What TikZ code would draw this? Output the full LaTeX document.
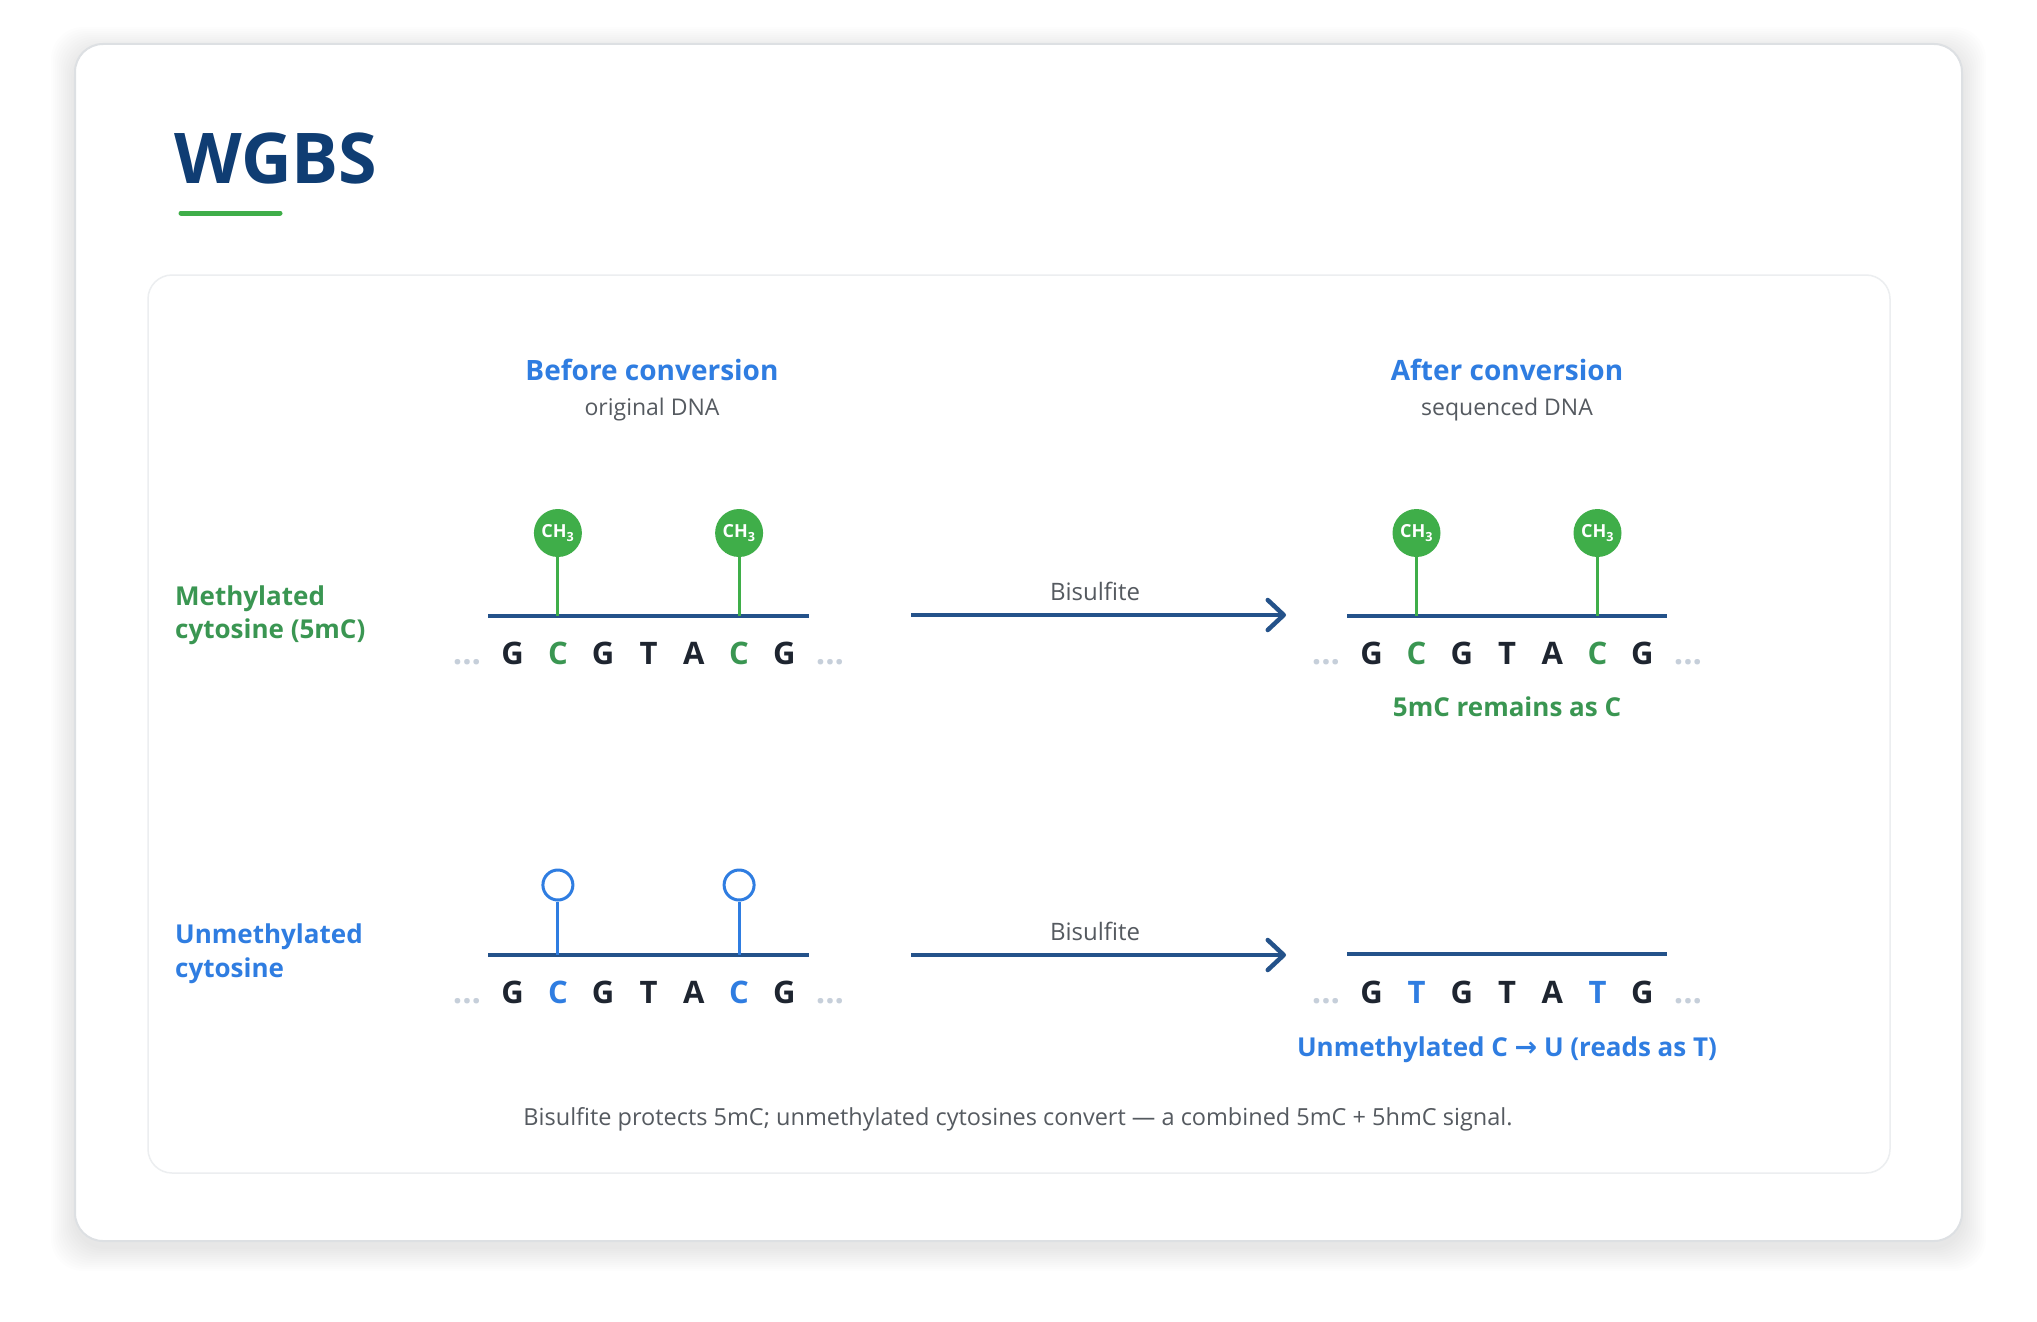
\documentclass[tikz,border=0pt]{standalone}
\usepackage{fontspec}
\setmainfont{Open Sans}
\newfontfamily\symfont{DejaVu Sans}
\usetikzlibrary{arrows.meta}
\definecolor{navy}{HTML}{0F3D73}
\definecolor{gbright}{HTML}{3FAE49}
\definecolor{gtext}{HTML}{3A9652}
\definecolor{bl}{HTML}{2F7DE1}
\definecolor{linenavy}{HTML}{24528A}
\definecolor{ink}{HTML}{1E2530}
\definecolor{gtxt}{HTML}{555A60}
\definecolor{dotc}{HTML}{C6CFDA}
\definecolor{cardline}{HTML}{DDE0E3}
\definecolor{panelline}{HTML}{ECEEF0}
\begin{document}
\begin{tikzpicture}[x=1pt,y=-1pt,
  titletext/.style={font=\fontsize{70}{84}\selectfont\bfseries, text=navy, inner sep=0, anchor=base west},
  hdr/.style={font=\fontsize{28}{34}\selectfont\bfseries, text=bl, inner sep=0, anchor=base},
  subhdr/.style={font=\fontsize{23}{28}\selectfont, text=gtxt, inner sep=0, anchor=base},
  rowlab/.style={font=\fontsize{26}{31}\selectfont\bfseries, inner sep=0, anchor=base west},
  base/.style={font=\fontsize{31}{37}\selectfont\bfseries, text=ink, inner sep=0, anchor=base},
  dots/.style={font=\fontsize{33}{39}\selectfont\bfseries, text=dotc, inner sep=0, anchor=base},
  backbone/.style={draw=linenavy, line width=3.5pt},
  ch3/.style={circle, fill=gbright, minimum size=48pt, inner sep=0, text=white, font=\fontsize{18}{20}\selectfont\bfseries},
  opencirc/.style={circle, draw=bl, fill=white, line width=3pt, minimum size=30pt, inner sep=0},
  gstem/.style={draw=gbright, line width=3pt},
  bstem/.style={draw=bl, line width=3pt},
  arr/.style={draw=linenavy, line width=4.5pt, -{Straight Barb[length=16pt,width=30pt,round]}},
  arrlab/.style={font=\fontsize{24}{29}\selectfont, text=gtxt, inner sep=0, anchor=base},
  note/.style={font=\fontsize{26}{31}\selectfont\bfseries, inner sep=0, anchor=base},
  foot/.style={font=\fontsize{23.5}{28}\selectfont, text=gtxt, inner sep=0, anchor=base}
]
\useasboundingbox (0,0) rectangle (2037,1322);
\fill[white] (0,0) rectangle (2037,1322);
% soft shadow
\foreach \i in {1,...,12}
  \fill[black, opacity=0.006, rounded corners=32pt] (75-2*\i, 46-2*\i+5) rectangle (1962+2*\i, 1241+2*\i+6);
% outer card
\draw[cardline, fill=white, line width=2pt, rounded corners=28pt] (75,44) rectangle (1962,1241);
% inner panel
\draw[panelline, fill=white, line width=1.5pt, rounded corners=24pt] (148,275) rectangle (1890,1173);

% title
\node[titletext] (title) at (174,183) {WGBS};
\draw[gbright, line width=5pt, line cap=round] (181,213) -- (280,213);

% headers
\node[hdr] (hb) at (652,380) {Before conversion};
\node[subhdr] (sb) at (652,415) {original DNA};
\node[hdr] (ha) at (1507,380) {After conversion};
\node[subhdr] (sa) at (1507,415) {sequenced DNA};

% row labels
\node[rowlab, text=gtext] (ml1) at (175,605) {Methylated};
\node[rowlab, text=gtext] (ml2) at (175,638) {cytosine (5mC)};
\node[rowlab, text=bl] (ul1) at (175,943) {Unmethylated};
\node[rowlab, text=bl] (ul2) at (175,977) {cytosine};

% ===== Row 1 left
\coordinate (b1lw) at (488,616);
\coordinate (b1le) at (809,616);
\draw[backbone] (b1lw) -- (b1le);
\node[dots] (d1la) at (467,664) {...};
\node[dots] (d1lb) at (830,664) {...};
\foreach \c/\x/\col [count=\k] in {G/512.6/ink, C/557.9/gtext, G/603.2/ink, T/648.5/ink, A/693.8/ink, C/739.1/gtext, G/784.4/ink}
  \node[base, text=\col] (r1l\k) at (\x,664) {\c};
\node[ch3] (m1a) at (557.9,533) {CH\textsubscript{3}};
\node[ch3] (m1b) at (739.1,533) {CH\textsubscript{3}};
\draw[gstem] (m1a.south) -- (m1a.south |- b1lw);
\draw[gstem] (m1b.south) -- (m1b.south |- b1lw);

% arrow 1
\coordinate (a1s) at (911,615);
\coordinate (a1e) at (1286,615);
\draw[arr] (a1s) -- (a1e);
\node[arrlab] (bis1) at (1095,600) {Bisulfite};

% ===== Row 1 right
\coordinate (b1rw) at (1347,616);
\coordinate (b1re) at (1667,616);
\draw[backbone] (b1rw) -- (b1re);
\node[dots] (d1ra) at (1326,664) {...};
\node[dots] (d1rb) at (1688,664) {...};
\foreach \c/\x/\col [count=\k] in {G/1371.6/ink, C/1416.5/gtext, G/1461.8/ink, T/1507/ink, A/1552.2/ink, C/1597.5/gtext, G/1642.4/ink}
  \node[base, text=\col] (r1r\k) at (\x,664) {\c};
\node[ch3] (m2a) at (1416.5,533) {CH\textsubscript{3}};
\node[ch3] (m2b) at (1597.5,533) {CH\textsubscript{3}};
\draw[gstem] (m2a.south) -- (m2a.south |- b1rw);
\draw[gstem] (m2b.south) -- (m2b.south |- b1rw);
\node[note, text=gtext] (n1) at (1507,716) {5mC remains as C};

% ===== Row 2 left
\coordinate (b2lw) at (488,955);
\coordinate (b2le) at (809,955);
\draw[backbone] (b2lw) -- (b2le);
\node[dots] (d2la) at (467,1003) {...};
\node[dots] (d2lb) at (830,1003) {...};
\foreach \c/\x/\col [count=\k] in {G/512.6/ink, C/557.9/bl, G/603.2/ink, T/648.5/ink, A/693.8/ink, C/739.1/bl, G/784.4/ink}
  \node[base, text=\col] (r2l\k) at (\x,1003) {\c};
\node[opencirc] (u1a) at (557.9,885) {};
\node[opencirc] (u1b) at (739.1,885) {};
\draw[bstem] (u1a.south) -- (u1a.south |- b2lw);
\draw[bstem] (u1b.south) -- (u1b.south |- b2lw);

% arrow 2
\coordinate (a2s) at (911,955);
\coordinate (a2e) at (1286,955);
\draw[arr] (a2s) -- (a2e);
\node[arrlab] (bis2) at (1095,940) {Bisulfite};

% ===== Row 2 right
\coordinate (b2rw) at (1347,954);
\coordinate (b2re) at (1667,954);
\draw[backbone] (b2rw) -- (b2re);
\node[dots] (d2ra) at (1326,1003) {...};
\node[dots] (d2rb) at (1688,1003) {...};
\foreach \c/\x/\col [count=\k] in {G/1371.6/ink, T/1416.5/bl, G/1461.8/ink, T/1507/ink, A/1552.2/ink, T/1597.5/bl, G/1642.4/ink}
  \node[base, text=\col] (r2r\k) at (\x,1003) {\c};
\node[note, text=bl] (n2) at (1507,1056) {Unmethylated C {\symfont\fontsize{27}{30}\selectfont →} U (reads as T)};

% footer
\node[foot] (ft) at (1018,1125) {Bisulfite protects 5mC; unmethylated cytosines convert — a combined 5mC + 5hmC signal.};
\end{tikzpicture}
\end{document}
